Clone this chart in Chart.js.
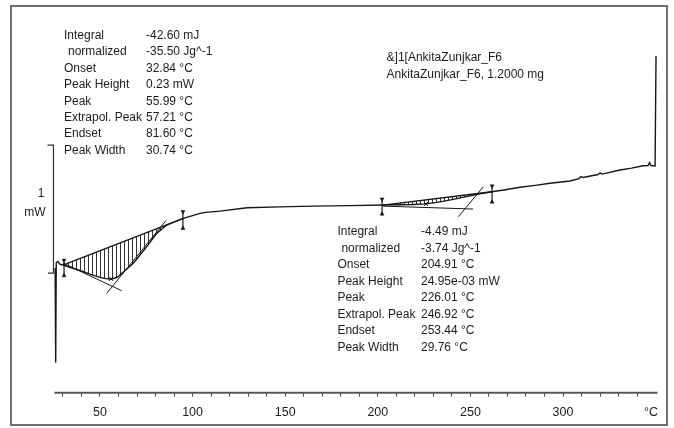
<!DOCTYPE html>
<html>
<head>
<meta charset="utf-8">
<title>DSC AnkitaZunjkar_F6</title>
<script src="https://cdn.jsdelivr.net/npm/chart.js@4.4.1/dist/chart.umd.min.js"></script>
<style>
  html, body { margin: 0; padding: 0; background: #fff; }
  #wrap { position: relative; width: 674px; height: 428px; }
  #dscChart { position: absolute; left: 0; top: 0; }
  #frame {
    position: absolute; left: 10px; top: 5px; width: 658px; height: 421px;
    box-sizing: border-box; border: 2px solid #707070; pointer-events: none;
  }
</style>
</head>
<body>
<div id="wrap">
  <canvas id="dscChart" width="674" height="428"></canvas>
  <div id="frame"></div>
</div>
<script>
// DSC curve, heat flow in mW (arbitrary zero) vs temperature in °C
const curveTemp = [25.8, 26.1, 26.4, 27.3, 28.3, 30.0, 35, 40, 45, 50, 53, 56, 59, 60.8, 64.5, 68.0,
  71.5, 75.2, 78, 80.6, 83.3, 86.0, 90.5, 95.0, 100, 104.0, 107, 114.8, 129.4, 147, 165, 185,
  202.8, 212, 219, 226, 232, 238, 244, 249.8, 255, 260.6, 268, 276.8, 285, 293, 303.8, 308.6,
  309.7, 310.8, 318.9, 320.0, 321.1, 330.8, 337, 343.2, 345.9, 346.7, 347.5, 349.7, 350.2];
const curveMW = [0.04, -0.70, 0.08, 0.09, 0.07, 0.0625, 0.039, 0.016, -0.01, -0.034, -0.044, -0.048,
  -0.035, -0.016, 0.031, 0.076, 0.139, 0.205, 0.26, 0.31, 0.342, 0.375, 0.401, 0.427, 0.449,
  0.466, 0.474, 0.484, 0.51, 0.517, 0.523, 0.527, 0.531, 0.533, 0.535, 0.54, 0.552, 0.568,
  0.585, 0.603, 0.618, 0.633, 0.649, 0.67, 0.685, 0.701, 0.719, 0.738, 0.754, 0.746, 0.77,
  0.783, 0.773, 0.805, 0.82, 0.838, 0.84, 0.863, 0.84, 0.836, 1.695];

// evaluation lines of the two peaks [temp, mW]
const peak1Base = [[30.0, 0.0625], [95.0, 0.427]];
const peak1Tangent = [[30.0, 0.078], [61.7, -0.138]];
const peak1Slope = [[53.6, -0.159], [85.6, 0.409]];
const peak1Limits = [[30.6, 0.10, -0.02], [94.8, 0.479, 0.349]];
const peak2Base = [[202.8, 0.531], [261.7, 0.635]];
const peak2Tangent = [[202.8, 0.523], [251.4, 0.50]];
const peak2Slope = [[243.5, 0.44], [257.0, 0.674]];
const peak2Limits = [[202.3, 0.578, 0.461], [261.7, 0.68, 0.555]];
const peakMarks = [[55.99, -0.045], [226.01, 0.54]];

// 1 mW scale bar
const scaleBarTemp = [21.7, 24.9, 24.9, 21.9];
const scaleBarMW = [1, 1, 0, 0];

const xTicks = [30, 40, 50, 60, 70, 80, 90, 100, 110, 120, 130, 140, 150, 160, 170, 180, 190,
  200, 210, 220, 230, 240, 250, 260, 270, 280, 290, 300, 310, 320, 330, 340];
const unitTick = 347.5;

const result1Labels = ["Integral", "normalized", "Onset", "Peak Height", "Peak", "Extrapol. Peak", "Endset", "Peak Width"];
const result1Values = ["-42.60 mJ", "-35.50 Jg^-1", "32.84 °C", "0.23 mW", "55.99 °C", "57.21 °C", "81.60 °C", "30.74 °C"];
const result2Labels = result1Labels;
const result2Values = ["-4.49 mJ", "-3.74 Jg^-1", "204.91 °C", "24.95e-03 mW", "226.01 °C", "246.92 °C", "253.44 °C", "29.76 °C"];
const sampleLines = ["&]1[AnkitaZunjkar_F6", "AnkitaZunjkar_F6, 1.2000 mg"];

const Y_MIN = -0.935;
const Y_MAX = 1.977;

const ctx = document.getElementById("dscChart").getContext("2d");

function hatch(color) {
  const c = document.createElement("canvas");
  c.width = 4;
  c.height = 4;
  const g = c.getContext("2d");
  g.fillStyle = color;
  g.fillRect(0, 0, 1, 4);
  return ctx.createPattern(c, "repeat");
}

const pts = (arr) => arr.map((p) => ({ x: p[0], y: p[1] }));
const curvePts = curveTemp.map((t, i) => ({ x: t, y: curveMW[i] }));
const curveBetween = (lo, hi) => curvePts.filter((p) => p.x >= lo && p.x <= hi);

function lineSet(data, width, extra) {
  return Object.assign({
    data: data,
    borderColor: "#161616",
    borderWidth: width,
    pointRadius: 0,
    fill: false,
    tension: 0,
  }, extra || {});
}

function limitSet(l) {
  return lineSet([{ x: l[0], y: l[1] }, { x: l[0], y: l[2] }], 1.2, {
    pointRadius: 2.3,
    pointStyle: "triangle",
    pointRotation: [180, 0],
    pointBackgroundColor: "#161616",
    pointBorderColor: "#161616",
    pointBorderWidth: 0.5,
  });
}

const datasets = [
  lineSet(curvePts, 1.4),                                             // 0 curve
  lineSet(pts(peak1Base), 1.3),                                       // 1 baseline peak 1
  lineSet(curveBetween(30.0, 95.0), 0, { fill: 1, backgroundColor: hatch("#333") }),
  lineSet(pts(peak2Base), 1.3),                                       // 3 baseline peak 2
  lineSet(curveBetween(202.8, 260.6), 0, { fill: 3, backgroundColor: hatch("#333") }),
  lineSet(pts(peak1Tangent), 1),
  lineSet(pts(peak1Slope), 1),
  lineSet(pts(peak2Tangent), 1),
  lineSet(pts(peak2Slope), 1),
  limitSet(peak1Limits[0]),
  limitSet(peak1Limits[1]),
  limitSet(peak2Limits[0]),
  limitSet(peak2Limits[1]),
  lineSet(pts(peakMarks), 0, { showLine: false, pointRadius: 3, pointStyle: "crossRot", pointBorderWidth: 1, pointBorderColor: "#161616" }),
  lineSet(scaleBarTemp.map((t, i) => ({ x: t, y: scaleBarMW[i] })), 1.2, { borderColor: "#333", clip: false }),
  lineSet([{ x: 25.4, y: Y_MIN }, { x: 351, y: Y_MIN }], 2, { borderColor: "#555", clip: false }),
];

const textPlugin = {
  id: "dscText",
  afterDraw(chart) {
    const c = chart.ctx;
    c.save();
    c.fillStyle = "#1c1c1c";
    c.font = '12px "Liberation Sans", Arial, sans-serif';
    c.textBaseline = "alphabetic";
    c.textAlign = "left";
    result1Labels.forEach((s, i) => {
      const y = 38.8 + 16.43 * i;
      c.fillText(s, i === 1 ? 68 : 64, y);
      c.fillText(result1Values[i], 146, y);
    });
    result2Labels.forEach((s, i) => {
      const y = 235.4 + 16.47 * i;
      c.fillText(s, i === 1 ? 341.4 : 337.4, y);
      c.fillText(result2Values[i], 421, y);
    });
    c.fillText(sampleLines[0], 386.6, 60.5);
    c.fillText(sampleLines[1], 386.6, 78);
    c.textAlign = "right";
    c.fillText("1", 44.5, 197);
    c.fillText("mW", 45.5, 216);
    c.restore();
  },
};

new Chart(ctx, {
  type: "line",
  data: { datasets: datasets },
  options: {
    responsive: false,
    animation: false,
    events: [],
    layout: { padding: { left: 44.4, right: 16.5, top: 20, bottom: 0.3 } },
    plugins: { legend: { display: false }, tooltip: { enabled: false } },
    scales: {
      x: {
        type: "linear",
        min: 20,
        max: 351,
        border: { display: false },
        grid: {
          drawOnChartArea: false,
          drawTicks: true,
          tickLength: 4,
          tickWidth: 1,
          tickColor: (c) => (c.tick && c.tick.value === unitTick ? "rgba(0,0,0,0)" : "#444"),
        },
        afterBuildTicks: (scale) => {
          scale.ticks = xTicks.concat([unitTick]).map((v) => ({ value: v }));
        },
        ticks: {
          autoSkip: false,
          maxRotation: 0,
          padding: 8,
          color: "#1c1c1c",
          font: { family: "Liberation Sans", size: 12.5 },
          callback: (v) => (v === unitTick ? "°C" : v % 50 === 0 ? String(v) : ""),
        },
      },
      y: { display: false, min: Y_MIN, max: Y_MAX },
    },
  },
  plugins: [textPlugin],
});
</script>
</body>
</html>
